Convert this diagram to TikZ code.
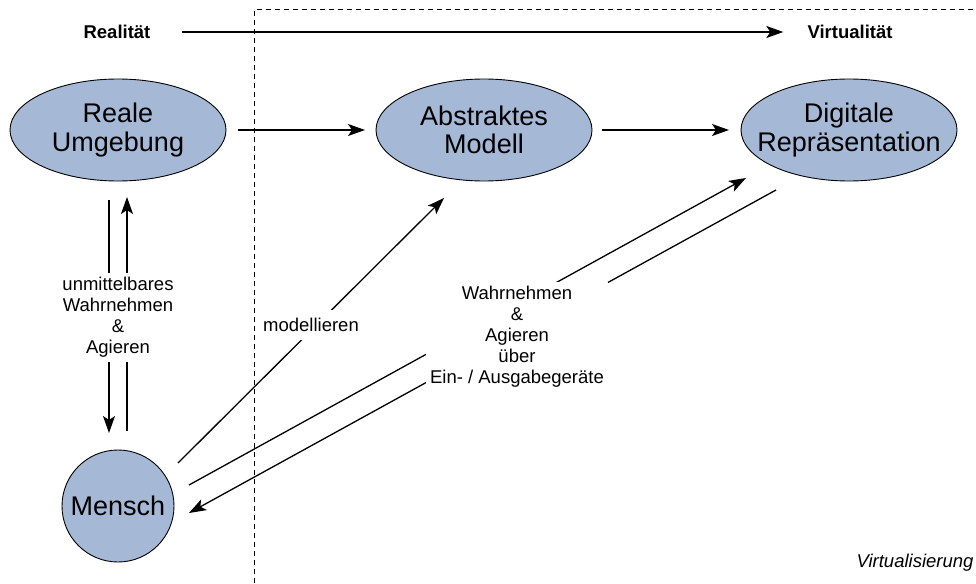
\documentclass[tikz,border=0pt]{standalone}
\usepackage{fontspec}
\setmainfont{Liberation Sans}
\usetikzlibrary{arrows.meta,calc,shapes.geometric}
\definecolor{nodeblue}{RGB}{165,184,214}
\begin{document}
\begin{tikzpicture}[x=1pt,y=-1pt,
  bignode/.style={draw=black,line width=0.9pt,fill=nodeblue,outer sep=0pt,align=center,font=\fontsize{27}{27}\selectfont},
  ell/.style={bignode,ellipse,inner sep=-20pt,minimum width=216pt,minimum height=102pt},
  circ/.style={bignode,circle,inner sep=0pt,minimum size=112pt},
  arr/.style={line width=1.3pt,-{Stealth[length=17pt,width=12pt,inset=4pt]}},
  lbl/.style={fill=white,align=center,inner sep=4pt,font=\fontsize{18.5}{21}\selectfont},
  hdr/.style={inner sep=0pt,font=\fontsize{18.5}{21}\selectfont\bfseries}
]
\path[use as bounding box] (0,0) rectangle (976,583);
% dashed frame
\draw[line width=0.8pt,dash pattern=on 5pt off 4pt] (254,583) -- (254,9.5) -- (976,9.5);
% header
\node[hdr] (real) at (117,32) {Realität};
\node[hdr] (virt) at (850,32) {Virtualität};
\draw[arr,shorten <=31pt,shorten >=24pt] (real.east) -- (virt.west);
% nodes
\node[ell] (reale) at (118,130) {\strut Reale\\Umgebung};
\node[ell] (abs) at (484,130) {\strut Abstraktes\\Modell};
\node[ell] (dig) at (849,130) {\strut Digitale\\Repräsentation};
\node[circ] (mensch) at (118,506) {Mensch};
\node[inner sep=0pt,font=\fontsize{18.5}{21}\selectfont\itshape] (virtu) at (915,563) {Virtualisierung};
% horizontal connectors
\draw[arr,shorten <=12pt,shorten >=11pt] (reale.east) -- (abs.west);
\draw[arr,shorten <=10pt,shorten >=12pt] (abs.east) -- (dig.west);
% vertical connectors
\draw[arr] ($(reale.center)+(-9,70)$) -- ($(mensch.center)+(-9,-73)$);
\draw[arr] ($(mensch.center)+(9,-75)$) -- ($(reale.center)+(9,67)$);
% diagonal connectors
\draw[arr] ($(mensch.center)+(60,-43)$) -- ($(abs.center)+(-40,68)$);
\draw[arr] ($(mensch.center)+(71,-21)$) -- ($(dig.center)+(-103,48)$);
\draw[arr] ($(dig.center)+(-73,60)$) -- ($(mensch.center)+(71,7)$);
% labels
\node[lbl,inner ysep=4.5pt] (l1) at (118,317.5) {unmittelbares\\Wahrnehmen\\\&\\Agieren};
\node[lbl,inner xsep=3pt,inner ysep=8pt] (l2) at (311,325) {modellieren};
\node[lbl] (l3) at (517,337) {Wahrnehmen\\\&\\Agieren\\über\\Ein- / Ausgabegeräte};
\end{tikzpicture}
\end{document}
